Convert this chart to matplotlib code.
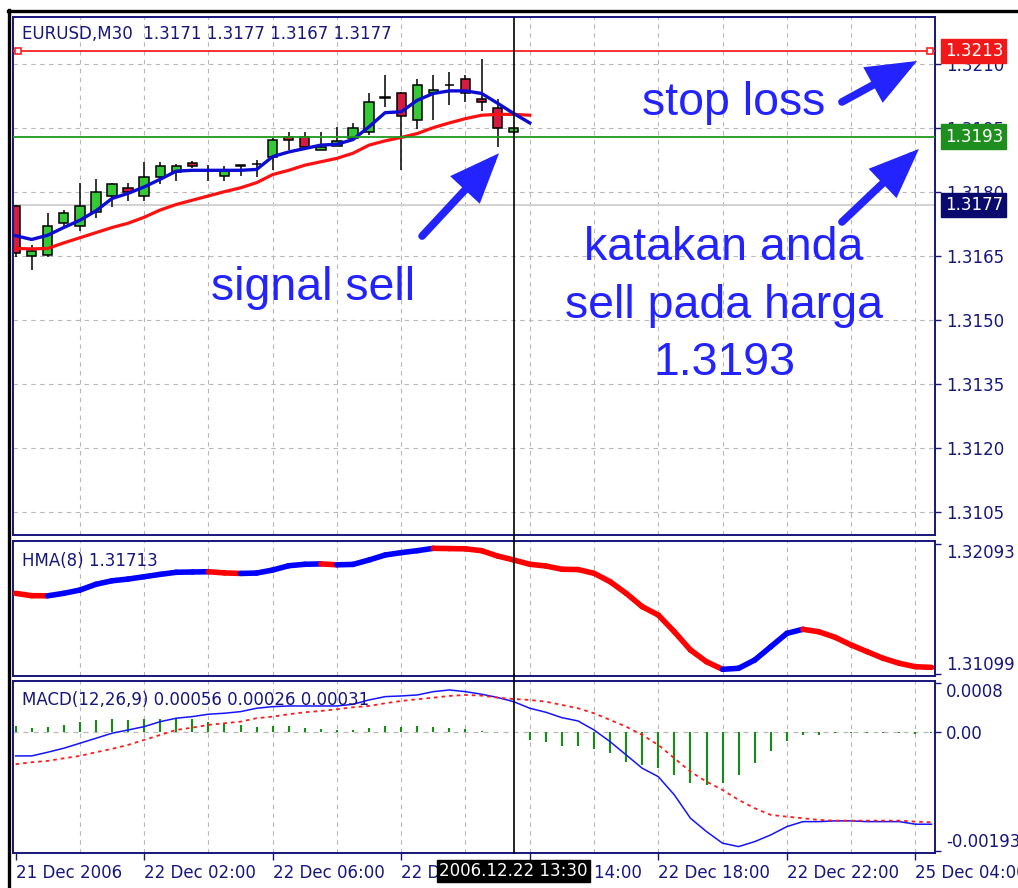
import matplotlib
matplotlib.use('Agg')
import matplotlib.pyplot as plt
from matplotlib.collections import LineCollection
from matplotlib.lines import Line2D
from matplotlib.transforms import blended_transform_factory

plt.rcParams['font.family'] = 'DejaVu Sans'

# EURUSD M30 candles (bar 0 = 21 Dec 2006 22:00).
opens = [1.31767, 1.31650, 1.31653, 1.31727, 1.31720, 1.31753, 1.31791, 1.31809,
         1.31791, 1.31835, 1.31847, 1.31868, 1.31850, 1.31837, 1.31860, 1.31865,
         1.31883, 1.31929, 1.31929, 1.31898, 1.31908, 1.31926, 1.31941, 1.32020,
         1.32031, 1.31968, 1.32031, 1.32050, 1.32064, 1.32019, 1.31998, 1.31941]
highs = [1.31770, 1.31676, 1.31751, 1.31758, 1.31821, 1.31830, 1.31821, 1.31821,
         1.31870, 1.31870, 1.31866, 1.31872, 1.31863, 1.31861, 1.31863, 1.31875,
         1.31926, 1.31941, 1.31941, 1.31941, 1.31953, 1.31962, 1.32031, 1.32074,
         1.32034, 1.32064, 1.32074, 1.32082, 1.32074, 1.32111, 1.32019, 1.31953]
lows = [1.31648, 1.31617, 1.31648, 1.31718, 1.31709, 1.31739, 1.31765, 1.31779,
        1.31779, 1.31819, 1.31826, 1.31857, 1.31826, 1.31826, 1.31837, 1.31835,
        1.31851, 1.31898, 1.31905, 1.31898, 1.31908, 1.31926, 1.31933, 1.31999,
        1.31851, 1.31947, 1.31968, 1.32004, 1.32011, 1.31991, 1.31906, 1.31936]
closes = [1.31657, 1.31662, 1.31720, 1.31751, 1.31767, 1.31800, 1.31819, 1.31800,
          1.31835, 1.31861, 1.31861, 1.31861, 1.31850, 1.31849, 1.31863, 1.31865,
          1.31922, 1.31923, 1.31906, 1.31906, 1.31920, 1.31949, 1.32011, 1.32022,
          1.31978, 1.32050, 1.32039, 1.32050, 1.32031, 1.32011, 1.31949, 1.31949]

# moving averages on the price window
ma_fast = [1.31698, 1.31689, 1.31699, 1.31717, 1.31734, 1.31756, 1.31785, 1.31797,
           1.31812, 1.31830, 1.31849, 1.31851, 1.31851, 1.31851, 1.31851, 1.31853,
           1.31883, 1.31894, 1.31902, 1.31910, 1.31912, 1.31923, 1.31953, 1.31986,
           1.31988, 1.32015, 1.32031, 1.32037, 1.32037, 1.32031, 1.32008, 1.31984,
           1.31962]
ma_slow = [1.31668, 1.31667, 1.31668, 1.31681, 1.31693, 1.31705, 1.31717, 1.31727,
           1.31741, 1.31758, 1.31771, 1.31781, 1.31791, 1.31801, 1.31810, 1.31822,
           1.31841, 1.31851, 1.31863, 1.31871, 1.31879, 1.31891, 1.31910, 1.31920,
           1.31928, 1.31937, 1.31951, 1.31962, 1.31972, 1.31980, 1.31982, 1.31982,
           1.31980]

# HMA(8)
hma = [1.31716, 1.31698, 1.31697, 1.31716, 1.31741, 1.31785, 1.31812, 1.31825,
       1.31843, 1.31861, 1.31877, 1.31879, 1.31881, 1.31872, 1.31868, 1.31871,
       1.31894, 1.31927, 1.31938, 1.31941, 1.31934, 1.31937, 1.31971, 1.32009,
       1.32027, 1.32042, 1.32060, 1.32058, 1.32056, 1.32042, 1.32001, 1.31971,
       1.31938, 1.31925, 1.31900, 1.31898, 1.31869, 1.31805, 1.31716, 1.31614,
       1.31550, 1.31422, 1.31283, 1.31193, 1.31135, 1.31143, 1.31206, 1.31308,
       1.31410, 1.31441, 1.31422, 1.31380, 1.31321, 1.31270, 1.31219, 1.31181,
       1.31155, 1.31150]

# MACD(12,26,9)
macd_main = [-0.000385, -0.000385, -0.000325, -0.000260, -0.000179, -0.000098, -0.000016, 0.000037,
             0.000091, 0.000172, 0.000228, 0.000254, 0.000293, 0.000309, 0.000335, 0.000390,
             0.000416, 0.000427, 0.000427, 0.000427, 0.000427, 0.000455, 0.000525, 0.000579,
             0.000590, 0.000606, 0.000660, 0.000687, 0.000660, 0.000618, 0.000565, 0.000497,
             0.000390, 0.000325, 0.000237, 0.000184, 0.000037, -0.000153, -0.000369, -0.000585,
             -0.000722, -0.001019, -0.001398, -0.001615, -0.001804, -0.001859, -0.001778, -0.001669,
             -0.001534, -0.001453, -0.001453, -0.001441, -0.001441, -0.001453, -0.001453, -0.001453,
             -0.001495, -0.001495]
macd_signal = [-0.000520, -0.000488, -0.000466, -0.000423, -0.000385, -0.000325, -0.000271, -0.000206,
               -0.000125, -0.000044, 0.000037, 0.000075, 0.000119, 0.000146, 0.000172, 0.000228,
               0.000254, 0.000293, 0.000325, 0.000346, 0.000374, 0.000406, 0.000427, 0.000471,
               0.000509, 0.000536, 0.000562, 0.000590, 0.000606, 0.000595, 0.000562, 0.000540,
               0.000525, 0.000497, 0.000444, 0.000390, 0.000309, 0.000200, 0.000091, -0.000044,
               -0.000206, -0.000423, -0.000640, -0.000803, -0.000938, -0.001100, -0.001235, -0.001344,
               -0.001372, -0.001398, -0.001425, -0.001437, -0.001437, -0.001437, -0.001437, -0.001437,
               -0.001453, -0.001463]
macd_hist = [0.000103, 0.000065, 0.000092, 0.000119, 0.000173, 0.000200, 0.000211, 0.000200,
             0.000211, 0.000217, 0.000228, 0.000211, 0.000173, 0.000146, 0.000119, 0.000092,
             0.000108, 0.000108, 0.000076, 0.000054, 0.000038, 0.000038, 0.000076, 0.000108,
             0.000092, 0.000108, 0.000081, 0.000076, 0.000054, 0.000022, 0.000011, 0.000008,
             -0.000125, -0.000152, -0.000217, -0.000217, -0.000271, -0.000341, -0.000477, -0.000531,
             -0.000574, -0.000693, -0.000829, -0.000856, -0.000829, -0.000693, -0.000504, -0.000304,
             -0.000141, -0.000043, -0.000043, -0.000010, -0.000010, -0.000010, -0.000010, -0.000010,
             -0.000030, -0.000010]

price_ticks = [1.3105, 1.3120, 1.3135, 1.3150, 1.3165, 1.3180, 1.3195, 1.3210]
time_ticks = [0, 8, 16, 24, 32, 40, 48, 56]
time_labels = ['21 Dec 2006', '22 Dec 02:00', '22 Dec 06:00', '22 Dec 10:00',
               '22 Dec 14:00', '22 Dec 18:00', '22 Dec 22:00', '25 Dec 04:00']
stop_loss = 1.3213
sell_price = 1.3193
bid = 1.3177
cursor_bar = 31

NAVY = '#16167c'
GRID = '#b8b8b8'
TXT_BLUE = '#2323ff'
W, H = 1018, 888


def panel(top, bottom):
    # screen rows of an MT4 sub-window -> figure fraction
    return [13 / W, 1 - bottom / H, 922 / W, (bottom - top) / H]


fig = plt.figure(figsize=(W / 100, H / 100), dpi=100)
ax_main = fig.add_axes(panel(17, 535))
ax_hma = fig.add_axes(panel(541, 676))
ax_macd = fig.add_axes(panel(681, 853))

for ax in (ax_main, ax_hma, ax_macd):
    ax.set_xlim(-0.16, 57.22)
    for s in ax.spines.values():
        s.set_color(NAVY)
        s.set_linewidth(1.4)
    ax.yaxis.tick_right()
    ax.tick_params(axis='y', direction='out', length=4, width=1, color=NAVY,
                   labelcolor=NAVY, labelsize=12, pad=4)
    ax.tick_params(axis='x', bottom=False, labelbottom=False)
    for b in range(4, len(hma), 4):
        ax.axvline(b, color=GRID, lw=0.8, ls=(0, (4, 4)), zorder=0)

# Price window
ax_main.set_ylim(1.30997, 1.32210)
ax_main.set_yticks(price_ticks)
ax_main.set_yticklabels([f'{p:.4f}' for p in price_ticks])
for p in price_ticks:
    ax_main.axhline(p, color=GRID, lw=0.8, ls=(0, (4, 4)), zorder=0)
ax_main.axhline(bid, color='#cfcfcf', lw=1.3, zorder=0.5)

bars = list(range(len(opens)))
ax_main.vlines(bars, lows, highs, color='black', lw=1.1, zorder=2)
body_bottom = [min(o, c) for o, c in zip(opens, closes)]
body_height = [abs(c - o) for o, c in zip(opens, closes)]
body_color = ['#36c936' if c >= o else '#d61a40' for o, c in zip(opens, closes)]
ax_main.bar(bars, body_height, bottom=body_bottom, width=0.58, color=body_color,
            edgecolor='black', linewidth=1.1, zorder=2.5)

ax_main.plot(range(len(ma_slow)), ma_slow, color='#ff1010', lw=2.3, zorder=3)
ax_main.plot(range(len(ma_fast)), ma_fast, color='#0c0cd2', lw=2.4, zorder=3.1)

ax_main.axhline(stop_loss, color='#ff2020', lw=1.3, zorder=4)
ax_main.axhline(sell_price, color='#1f9a1f', lw=1.3, zorder=4)
edge = blended_transform_factory(ax_main.transAxes, ax_main.transData)
ax_main.plot([0.005, 0.9945], [stop_loss, stop_loss], transform=edge, ls='none',
             marker='s', ms=5, mfc='white', mec='#ff2020', mew=1.2, zorder=4.5, clip_on=False)

for val, col in [(stop_loss, '#f01818'), (sell_price, '#1e8e1e'), (bid, '#0a0a6e')]:
    ax_main.annotate(f'{val:.4f}', xy=(1, val), xycoords=('axes fraction', 'data'),
                     xytext=(7, 0), textcoords='offset points', ha='left', va='center',
                     color='white', fontsize=12, zorder=10, annotation_clip=False,
                     bbox=dict(boxstyle='square,pad=0.2', fc=col, ec=col))

ax_main.text(0.0098, 0.967, 'EURUSD,M30  1.3171 1.3177 1.3167 1.3177', transform=ax_main.transAxes,
             color=NAVY, fontsize=12, va='center', ha='left')

# Notes drawn on the chart
note = dict(family='Liberation Sans', fontsize=33.5, color=TXT_BLUE, ha='center', va='baseline', zorder=6)
ax_main.text(18.5, 1.31547, 'signal sell', **note)
ax_main.text(44.7, 1.31980, 'stop loss', **note)
for line, y in zip(['katakan anda', 'sell pada harga', '1.3193'], [1.31641, 1.31504, 1.31372]):
    ax_main.text(44.1, y, line, **note)

arrow = dict(arrowstyle='-|>,head_length=2.6,head_width=1.05', lw=5.5, color=TXT_BLUE,
             shrinkA=0, shrinkB=0, joinstyle='miter')
for tip, tail in [((30.09, 1.31891), (25.3, 1.31697)),
                  ((56.1, 1.32107), (51.43, 1.32011)),
                  ((56.22, 1.31901), (51.43, 1.31730))]:
    ax_main.annotate('', xy=tip, xytext=tail, arrowprops=arrow, zorder=6)

ax_main.axvline(cursor_bar, color='black', lw=1.2, zorder=5)

# HMA window, red when falling and blue when rising
ax_hma.set_ylim(1.31084, 1.32116)
pts = list(zip(range(len(hma)), hma))
segs = [[pts[i], pts[i + 1]] for i in range(len(hma) - 1)]
cols = ['#ff0000' if hma[i + 1] < hma[i] else '#0000ff' for i in range(len(hma) - 1)]
ax_hma.add_collection(LineCollection(segs, colors=cols, linewidths=4.0, capstyle='round', zorder=3))
ax_hma.set_yticks([1.31099, 1.32093])
ax_hma.set_yticklabels(['1.31099', '1.32093'])
ticks = ax_hma.yaxis.get_major_ticks()
ticks[0].label2.set_va('bottom')
ticks[1].label2.set_va('top')
ax_hma.text(0.0098, 0.852, 'HMA(8) 1.31713', transform=ax_hma.transAxes,
            color=NAVY, fontsize=12, va='center', ha='left')
ax_hma.axvline(cursor_bar, ymax=1.045, color='black', lw=1.2, zorder=5, clip_on=False)

# MACD window
ax_macd.set_ylim(-0.001963, 0.000833)
ax_macd.axhline(0, color=GRID, lw=0.9, ls=(0, (4, 4)), zorder=0)
ax_macd.vlines(range(len(macd_hist)), 0, macd_hist, color='#138f13', lw=1.5, zorder=2)
ax_macd.plot(range(len(macd_main)), macd_main, color='#1414ff', lw=1.1, zorder=3)
ax_macd.plot(range(len(macd_signal)), macd_signal, color='#ff1a1a', lw=1.3,
             ls=(0, (2, 2.2)), zorder=3)
ax_macd.set_yticks([-0.00193, 0.0, 0.0008])
ax_macd.set_yticklabels(['-0.00193', '0.00', '0.0008'])
ticks = ax_macd.yaxis.get_major_ticks()
ticks[0].label2.set_va('bottom')
ticks[2].label2.set_va('top')
ax_macd.text(0.0098, 0.89, 'MACD(12,26,9) 0.00056 0.00026 0.00031', transform=ax_macd.transAxes,
             color=NAVY, fontsize=12, va='center', ha='left')
ax_macd.axvline(cursor_bar, ymax=1.035, color='black', lw=1.2, zorder=5, clip_on=False)

ax_macd.set_xticks(time_ticks)
ax_macd.set_xticklabels(time_labels, ha='left')
ax_macd.tick_params(axis='x', bottom=True, labelbottom=True, direction='out', length=5,
                    width=1, color=NAVY, labelcolor=NAVY, labelsize=12, pad=3)
ax_macd.annotate('2006.12.22 13:30', xy=(cursor_bar, 0), xycoords=('data', 'axes fraction'),
                 xytext=(0, -13), textcoords='offset points', ha='center', va='center',
                 color='white', fontsize=12, zorder=10, annotation_clip=False,
                 bbox=dict(boxstyle='square,pad=0.12', fc='black', ec='black'))

# window border of the terminal
fig.add_artist(Line2D([8 / W, 1], [1 - 11 / H, 1 - 11 / H], color='black', lw=2.4,
                      transform=fig.transFigure))
fig.add_artist(Line2D([9 / W, 9 / W], [0, 1 - 10 / H], color='black', lw=2.4,
                      transform=fig.transFigure))

fig.savefig('out.png', dpi=100)
